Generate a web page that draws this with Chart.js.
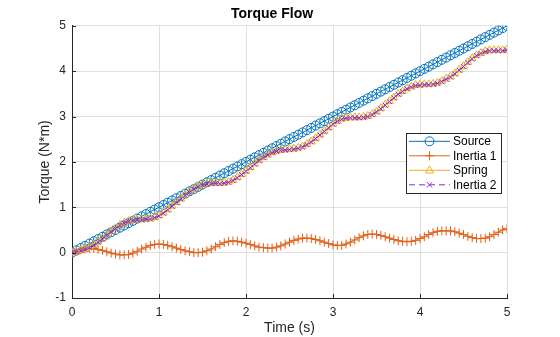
<!DOCTYPE html>
<html>
<head>
<meta charset="utf-8">
<script src="https://cdn.jsdelivr.net/npm/chart.js"></script>
<style>
  body { margin: 0; background: #fff; }
  #chart-wrapper { width: 560px; height: 337px; }
</style>
</head>
<body>
<div id="chart-wrapper">
    <canvas id="my-chart" width="560" height="337"></canvas>
</div>
<script>
// time samples (s)
const time = [0,0.05,0.1,0.15,0.2,0.25,0.3,0.35,0.4,0.45,
  0.5,0.55,0.6,0.65,0.7,0.75,0.8,0.85,0.9,0.95,
  1,1.05,1.1,1.15,1.2,1.25,1.3,1.35,1.4,1.45,
  1.5,1.55,1.6,1.65,1.7,1.75,1.8,1.85,1.9,1.95,
  2,2.05,2.1,2.15,2.2,2.25,2.3,2.35,2.4,2.45,
  2.5,2.55,2.6,2.65,2.7,2.75,2.8,2.85,2.9,2.95,
  3,3.05,3.1,3.15,3.2,3.25,3.3,3.35,3.4,3.45,
  3.5,3.55,3.6,3.65,3.7,3.75,3.8,3.85,3.9,3.95,
  4,4.05,4.1,4.15,4.2,4.25,4.3,4.35,4.4,4.45,
  4.5,4.55,4.6,4.65,4.7,4.75,4.8,4.85,4.9,4.95,
  5];

const source = [0,0.05,0.1,0.15,0.2,0.25,0.3,0.35,0.4,0.45,
  0.5,0.55,0.6,0.65,0.7,0.75,0.8,0.85,0.9,0.95,
  1,1.05,1.1,1.15,1.2,1.25,1.3,1.35,1.4,1.45,
  1.5,1.55,1.6,1.65,1.7,1.75,1.8,1.85,1.9,1.95,
  2,2.05,2.1,2.15,2.2,2.25,2.3,2.35,2.4,2.45,
  2.5,2.55,2.6,2.65,2.7,2.75,2.8,2.85,2.9,2.95,
  3,3.05,3.1,3.15,3.2,3.25,3.3,3.35,3.4,3.45,
  3.5,3.55,3.6,3.65,3.7,3.75,3.8,3.85,3.9,3.95,
  4,4.05,4.1,4.15,4.2,4.25,4.3,4.35,4.4,4.45,
  4.5,4.55,4.6,4.65,4.7,4.75,4.8,4.85,4.9,4.95,
  5];

const inertia1 = [0,0.03,0.06,0.08,0.09,0.09,0.07,0.05,0.02,-0.01,
  -0.03,-0.05,-0.05,-0.04,-0.01,0.03,0.08,0.12,0.16,0.18,
  0.19,0.18,0.16,0.13,0.10,0.07,0.04,0.02,0.00,0.00,
  0.01,0.04,0.08,0.13,0.18,0.22,0.25,0.26,0.25,0.23,
  0.21,0.18,0.15,0.12,0.11,0.10,0.10,0.12,0.15,0.19,
  0.23,0.27,0.30,0.32,0.32,0.31,0.29,0.26,0.23,0.20,
  0.17,0.16,0.16,0.19,0.23,0.28,0.33,0.37,0.40,0.41,
  0.40,0.38,0.35,0.32,0.29,0.26,0.25,0.24,0.25,0.27,
  0.31,0.35,0.40,0.44,0.47,0.48,0.48,0.48,0.46,0.43,
  0.40,0.36,0.33,0.31,0.31,0.32,0.35,0.40,0.45,0.50,
  0.53];

const spring = [0,0.02,0.05,0.08,0.12,0.17,0.24,0.31,0.39,0.47,
  0.54,0.61,0.66,0.70,0.72,0.73,0.73,0.74,0.75,0.78,
  0.82,0.88,0.95,1.03,1.11,1.19,1.27,1.34,1.41,1.46,
  1.50,1.52,1.53,1.53,1.53,1.54,1.56,1.60,1.66,1.73,
  1.80,1.88,1.96,2.04,2.10,2.16,2.21,2.24,2.26,2.27,
  2.28,2.29,2.31,2.34,2.39,2.45,2.52,2.60,2.68,2.76,
  2.84,2.90,2.95,2.97,2.98,2.98,2.98,2.99,3.01,3.05,
  3.11,3.18,3.26,3.34,3.42,3.50,3.56,3.62,3.66,3.69,
  3.70,3.71,3.71,3.72,3.74,3.78,3.83,3.88,3.95,4.03,
  4.11,4.20,4.28,4.35,4.40,4.44,4.46,4.46,4.46,4.46,
  4.48];

const inertia2 = [0,0.02,0.04,0.07,0.11,0.16,0.23,0.30,0.38,0.46,
  0.53,0.60,0.65,0.69,0.71,0.72,0.72,0.73,0.74,0.77,
  0.81,0.87,0.94,1.02,1.10,1.18,1.26,1.33,1.40,1.45,
  1.49,1.51,1.52,1.52,1.52,1.53,1.55,1.59,1.65,1.72,
  1.79,1.87,1.95,2.03,2.09,2.15,2.20,2.23,2.25,2.26,
  2.27,2.28,2.30,2.33,2.38,2.44,2.51,2.59,2.67,2.75,
  2.83,2.89,2.94,2.96,2.97,2.97,2.97,2.98,3.00,3.04,
  3.10,3.17,3.25,3.33,3.41,3.49,3.55,3.61,3.65,3.68,
  3.69,3.70,3.70,3.71,3.73,3.77,3.82,3.87,3.94,4.02,
  4.10,4.19,4.27,4.34,4.39,4.43,4.45,4.45,4.45,4.45,
  4.47];

const seriesNames = ['Source', 'Inertia 1', 'Spring', 'Inertia 2'];
const xTicks = [0, 1, 2, 3, 4, 5];
const yTicks = [-1, 0, 1, 2, 3, 4, 5];

const colors = ['#0072BD', '#E2621B', '#EDB120', '#8B2BD9'];
const markers = ['circle', 'cross', 'triangle', 'crossRot'];
const radii = [4.5, 4.5, 4.5, 3.5];
const dashes = [[], [], [], [6, 4]];

function toPoints(ys) {
  return time.map(function (t, i) { return { x: t, y: ys[i] }; });
}

const allSeries = [source, inertia1, spring, inertia2];

const datasets = allSeries.map(function (ys, i) {
  return {
    label: seriesNames[i],
    data: toPoints(ys),
    borderColor: colors[i],
    backgroundColor: 'rgba(0,0,0,0)',
    borderWidth: 1,
    borderDash: dashes[i],
    pointStyle: markers[i],
    pointRadius: radii[i],
    pointBorderColor: colors[i],
    pointBackgroundColor: 'rgba(0,0,0,0)',
    pointBorderWidth: 1,
    tension: 0,
    order: 4 - i
  };
});

function drawMarker(c, style, x, y, r) {
  c.beginPath();
  if (style === 'circle') {
    c.arc(x, y, r, 0, Math.PI * 2);
  } else if (style === 'cross') {
    c.moveTo(x - r, y); c.lineTo(x + r, y);
    c.moveTo(x, y - r); c.lineTo(x, y + r);
  } else if (style === 'triangle') {
    c.moveTo(x, y - r);
    c.lineTo(x + r * 0.9, y + r * 0.6);
    c.lineTo(x - r * 0.9, y + r * 0.6);
    c.closePath();
  } else if (style === 'crossRot') {
    const d = r * 0.75;
    c.moveTo(x - d, y - d); c.lineTo(x + d, y + d);
    c.moveTo(x - d, y + d); c.lineTo(x + d, y - d);
  }
  c.stroke();
}

// legend box with line + marker samples, inside the axes
const boxLegend = {
  id: 'boxLegend',
  afterDraw: function (chart) {
    const c = chart.ctx;
    const area = chart.chartArea;
    const right = area.right - 6;
    const left = right - 95;
    const top = area.top + 107;
    const rowH = 14.5;
    const h = rowH * seriesNames.length + 2;
    c.save();
    c.fillStyle = '#fff';
    c.fillRect(left, top, right - left, h);
    c.strokeStyle = '#262626';
    c.lineWidth = 1;
    c.strokeRect(Math.round(left) + 0.5, Math.round(top) + 0.5, right - left, h);
    c.font = '12px "Liberation Sans", Arial, sans-serif';
    c.textBaseline = 'middle';
    seriesNames.forEach(function (name, i) {
      const y = top + 8.5 + i * rowH;
      c.strokeStyle = colors[i];
      c.lineWidth = 1;
      c.setLineDash(dashes[i]);
      c.beginPath();
      c.moveTo(left + 3, y);
      c.lineTo(left + 44, y);
      c.stroke();
      c.setLineDash([]);
      drawMarker(c, markers[i], left + 23.5, y, radii[i]);
      c.fillStyle = '#000';
      c.fillText(name, left + 47, y + 0.5);
    });
    c.restore();
  }
};

// small inward tick marks like the original axes
const innerTicks = {
  id: 'innerTicks',
  afterDraw: function (chart) {
    const c = chart.ctx;
    const area = chart.chartArea;
    const xs = chart.scales.x, ys = chart.scales.y;
    c.save();
    c.strokeStyle = '#262626';
    c.lineWidth = 1;
    c.beginPath();
    xTicks.forEach(function (v) {
      const px = Math.round(xs.getPixelForValue(v)) + 0.5;
      c.moveTo(px, area.bottom); c.lineTo(px, area.bottom - 4);
    });
    yTicks.forEach(function (v) {
      const py = Math.round(ys.getPixelForValue(v)) + 0.5;
      c.moveTo(area.left, py); c.lineTo(area.left + 4, py);
    });
    c.stroke();
    c.restore();
  }
};

const whiteBg = {
  id: 'whiteBg',
  beforeDraw: function (chart) {
    const c = chart.ctx;
    c.save();
    c.fillStyle = '#fff';
    c.fillRect(0, 0, chart.width, chart.height);
    c.restore();
  }
};

const tickFont = { family: '"Liberation Sans", Arial, sans-serif', size: 12 };
const labelFont = { family: '"Liberation Sans", Arial, sans-serif', size: 14 };

const ctx = document.getElementById('my-chart');
const chart = new Chart(ctx, {
  type: 'line',
  data: { datasets: datasets },
  options: {
    responsive: false,
    animation: false,
    events: [],
    layout: { padding: { left: 37, right: 53, top: 0, bottom: 0 } },
    plugins: {
      legend: { display: false },
      tooltip: { enabled: false },
      title: {
        display: true,
        text: 'Torque Flow',
        color: '#000',
        font: { family: '"Liberation Sans", Arial, sans-serif', size: 14, weight: 'bold' },
        padding: { top: 6, bottom: 3 }
      }
    },
    scales: {
      x: {
        type: 'linear',
        min: 0,
        max: 5,
        afterBuildTicks: function (scale) {
          scale.ticks = xTicks.map(function (v) { return { value: v }; });
        },
        afterFit: function (scale) { scale.height = 39; },
        grid: { color: '#dfdfdf', drawTicks: false },
        border: { color: '#262626', width: 1 },
        ticks: { color: '#262626', font: tickFont, padding: 7, maxRotation: 0 },
        title: { display: true, text: 'Time (s)', color: '#262626', font: labelFont, padding: { top: 0, bottom: 0 } }
      },
      y: {
        type: 'linear',
        min: -1,
        max: 5,
        afterBuildTicks: function (scale) {
          scale.ticks = yTicks.map(function (v) { return { value: v }; });
        },
        afterFit: function (scale) { scale.width = 35; },
        grid: { color: '#dfdfdf', drawTicks: false },
        border: { color: '#262626', width: 1 },
        ticks: { color: '#262626', font: tickFont, padding: 6 },
        title: { display: true, text: 'Torque (N*m)', color: '#262626', font: labelFont, padding: { top: 0, bottom: 2 } }
      }
    }
  },
  plugins: [whiteBg, innerTicks, boxLegend]
});
</script>
</body>
</html>
